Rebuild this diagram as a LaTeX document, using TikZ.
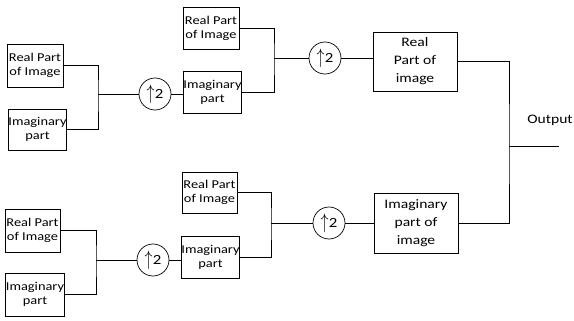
\documentclass[tikz,border=0pt]{standalone}
\usepackage{fontspec}
\setmainfont{Carlito}[FakeStretch=1.2]
\newcommand{\uptwo}{\raisebox{-0.5pt}{\scalebox{1.1}[1.45]{$\uparrow$}}\hspace{0.5pt}2}
\begin{document}
\begin{tikzpicture}[x=1pt,y=-1pt,
  smallbox/.style={draw,line width=0.9pt,rectangle,inner sep=0pt,align=center,font=\fontsize{12}{14}\selectfont},
  bigbox/.style={draw,line width=0.9pt,rectangle,inner sep=0pt,align=center,font=\fontsize{13}{18}\selectfont},
  upc/.style={draw,circle,line width=0.7pt,minimum size=32pt,inner sep=0pt,font=\fontsize{14}{15}\selectfont},
  wire/.style={line width=0.9pt}]
\useasboundingbox (0,0) rectangle (574,321);
% top-left
\node[smallbox,minimum width=56pt,minimum height=43pt] (A1) at (35,65.5) {Real Part\\of Image};
\node[smallbox,minimum width=57pt,minimum height=41pt] (A2) at (37.5,129.5) {Imaginary\\part};
\node[upc] (cA) at (155,94) {\uptwo};
\coordinate (jA) at (98,94);
% top-middle
\node[smallbox,minimum width=56pt,minimum height=42pt] (B1) at (211,28) {Real Part\\of Image};
\node[smallbox,minimum width=57pt,minimum height=42pt] (B2) at (212.5,92) {Imaginary\\part};
\node[upc] (cB) at (325,58) {\uptwo};
\coordinate (jB) at (274,58);
% right
\node[bigbox,minimum width=84pt,minimum height=59pt] (C1) at (415,61.5) {Real\\Part of\\image};
\node[bigbox,minimum width=84pt,minimum height=60pt] (C2) at (416,223) {Imaginary\\part of\\image};
\coordinate (jO) at (509,146);
\coordinate (oend) at (559,146);
\node[font=\fontsize{13}{15}\selectfont] (out) at (550,120) {Output};
% bottom-middle
\node[smallbox,minimum width=55pt,minimum height=41pt] (D1) at (209.5,192.5) {Real Part\\of Image};
\node[smallbox,minimum width=57pt,minimum height=42pt] (D2) at (210.5,257) {Imaginary\\part};
\node[upc] (cD) at (329,223) {\uptwo};
\coordinate (jD) at (271,223);
% bottom-left
\node[smallbox,minimum width=55pt,minimum height=43pt] (E1) at (32.5,230.5) {Real Part\\of Image};
\node[smallbox,minimum width=56pt,minimum height=43pt] (E2) at (35,294.5) {Imaginary\\part};
\node[upc] (cE) at (153,260) {\uptwo};
\coordinate (jE) at (96,260);
% wires
\draw[wire] (A1.east) -| (jA) |- (A2.east);
\draw[wire] (jA) -- (cA.west);
\draw[wire] (cA.east) -- (cA.east -| B2.west);
\draw[wire] (B1.east) -| (jB) |- (B2.east);
\draw[wire] (jB) -- (cB.west);
\draw[wire] (cB.east) -- (cB.east -| C1.west);
\draw[wire] (C1.east) -| (jO) |- (C2.east);
\draw[wire] (jO) -- (oend);
\draw[wire] (D1.east) -| (jD) |- (D2.east);
\draw[wire] (jD) -- (cD.west);
\draw[wire] (cD.east) -- (cD.east -| C2.west);
\draw[wire] (E1.east) -| (jE) |- (E2.east);
\draw[wire] (jE) -- (cE.west);
\draw[wire] (cE.east) -- (cE.east -| D2.west);
\end{tikzpicture}
\end{document}
